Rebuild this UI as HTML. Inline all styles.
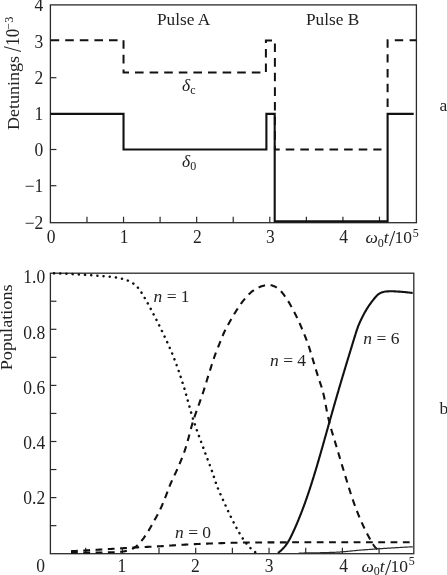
<!DOCTYPE html>
<html><head><meta charset="utf-8"><title>Figure</title>
<style>
html,body{margin:0;padding:0;background:#fff;}
svg{display:block;}
text{font-family:"Liberation Serif", serif;fill:#222;}
.ax{stroke:#2a2a2a;stroke-width:1.3;fill:none;}
.tk{stroke:#2a2a2a;stroke-width:1.2;fill:none;}
.ln{stroke:#111;stroke-width:2.1;fill:none;}
.ds{stroke:#111;stroke-width:2;fill:none;stroke-dasharray:9 6;}
.dt{stroke:#111;stroke-width:2.5;fill:none;stroke-dasharray:0.1 6.1;stroke-dashoffset:2.2;stroke-linecap:round;}
.it{font-style:italic;}
</style></head><body>
<svg width="447" height="575" viewBox="0 0 447 575">
<rect width="447" height="575" fill="#fff"/>

<rect class="ax" x="50.4" y="4.9" width="366.0" height="217.79999999999998"/>
<line class="tk" x1="86.97" y1="222.7" x2="86.97" y2="216.7"/>
<line class="tk" x1="123.53" y1="222.7" x2="123.53" y2="216.7"/>
<line class="tk" x1="160.09" y1="222.7" x2="160.09" y2="216.7"/>
<line class="tk" x1="196.66" y1="222.7" x2="196.66" y2="216.7"/>
<line class="tk" x1="233.22" y1="222.7" x2="233.22" y2="216.7"/>
<line class="tk" x1="269.79" y1="222.7" x2="269.79" y2="216.7"/>
<line class="tk" x1="306.35" y1="222.7" x2="306.35" y2="216.7"/>
<line class="tk" x1="342.92" y1="222.7" x2="342.92" y2="216.7"/>
<line class="tk" x1="379.48" y1="222.7" x2="379.48" y2="216.7"/>
<line class="tk" x1="50.4" y1="77.70" x2="56.4" y2="77.70"/>
<line class="tk" x1="50.4" y1="149.50" x2="56.4" y2="149.50"/>
<line class="tk" x1="50.4" y1="185.70" x2="56.4" y2="185.70"/>
<text transform="translate(43.3,11.30) scale(1,1.03)" font-size="17.5" text-anchor="end">4</text>
<text transform="translate(43.3,47.70) scale(1,1.03)" font-size="17.5" text-anchor="end">3</text>
<text transform="translate(43.3,84.10) scale(1,1.03)" font-size="17.5" text-anchor="end">2</text>
<text transform="translate(43.3,120.30) scale(1,1.03)" font-size="17.5" text-anchor="end">1</text>
<text transform="translate(43.3,155.90) scale(1,1.03)" font-size="17.5" text-anchor="end">0</text>
<text transform="translate(43.3,192.10) scale(1,1.03)" font-size="17.5" text-anchor="end">−1</text>
<text transform="translate(43.3,229.10) scale(1,1.03)" font-size="17.5" text-anchor="end">−2</text>
<text transform="translate(51.00,243) scale(1,1.03)" font-size="17.5" text-anchor="middle">0</text>
<text transform="translate(124.13,243) scale(1,1.03)" font-size="17.5" text-anchor="middle">1</text>
<text transform="translate(197.26,243) scale(1,1.03)" font-size="17.5" text-anchor="middle">2</text>
<text transform="translate(270.39,243) scale(1,1.03)" font-size="17.5" text-anchor="middle">3</text>
<text transform="translate(343.52,243) scale(1,1.03)" font-size="17.5" text-anchor="middle">4</text>
<text x="365.5" y="243" font-size="17.5"><tspan class="it">ω</tspan><tspan font-size="12" dy="3.5">0</tspan><tspan class="it" dy="-3.5">t</tspan><tspan font-size="22.5" dy="3" dx="0.2">/</tspan><tspan dy="-3" dx="-0.6">10</tspan><tspan font-size="12" dy="-6.5" dx="0.6">5</tspan></text>
<text transform="translate(19.1,129.9) rotate(-90) scale(1,0.94)" font-size="18">Detunings</text>
<text transform="translate(20.7,51.9) rotate(-90) scale(0.8,1)" font-size="26">/</text>
<text transform="translate(19.1,45.7) rotate(-90) scale(1,1.07)" font-size="17">10</text>
<text transform="translate(12.6,29.8) rotate(-90)" font-size="12.3">−3</text>
<text x="157" y="24.5" font-size="17.3">Pulse A</text>
<text x="306" y="24.6" font-size="17.3">Pulse B</text>
<text x="182" y="90.5" font-size="17.5"><tspan class="it">δ</tspan><tspan font-size="12" dy="3.3">c</tspan></text>
<text x="182" y="166.5" font-size="17.5"><tspan class="it">δ</tspan><tspan font-size="12" dy="3.3">0</tspan></text>
<text x="439.5" y="111" font-size="17.5">a</text>
<path class="ds" style="stroke-dasharray:8.6 6;stroke-dashoffset:-0.2" d="M50.4 40.2 H123.53 V72.6 H265.9 V40.400000000000006 H274.9 V149.50 H381.5"/>
<path class="ds" style="stroke-dasharray:8.4 6.4" d="M387.6 107 V40.2 H416.4"/>
<path class="ln" d="M50.4 113.90 H123.53 V149.50 H266.4 V113.90 H274.7 V221.40 H387.6 V113.90 H413.7"/>
<rect class="ax" x="50.4" y="273.2" width="363.40000000000003" height="280.50000000000006"/>
<line class="tk" x1="85.67" y1="553.7" x2="85.67" y2="547.7"/>
<line class="tk" x1="122.35" y1="553.7" x2="122.35" y2="547.7"/>
<line class="tk" x1="159.02" y1="553.7" x2="159.02" y2="547.7"/>
<line class="tk" x1="195.70" y1="553.7" x2="195.70" y2="547.7"/>
<line class="tk" x1="232.38" y1="553.7" x2="232.38" y2="547.7"/>
<line class="tk" x1="269.05" y1="553.7" x2="269.05" y2="547.7"/>
<line class="tk" x1="305.72" y1="553.7" x2="305.72" y2="547.7"/>
<line class="tk" x1="342.40" y1="553.7" x2="342.40" y2="547.7"/>
<line class="tk" x1="379.07" y1="553.7" x2="379.07" y2="547.7"/>
<line class="tk" x1="50.4" y1="525.65" x2="56.4" y2="525.65"/>
<line class="tk" x1="50.4" y1="497.60" x2="56.4" y2="497.60"/>
<line class="tk" x1="50.4" y1="469.55" x2="56.4" y2="469.55"/>
<line class="tk" x1="50.4" y1="441.50" x2="56.4" y2="441.50"/>
<line class="tk" x1="50.4" y1="413.45" x2="56.4" y2="413.45"/>
<line class="tk" x1="50.4" y1="385.40" x2="56.4" y2="385.40"/>
<line class="tk" x1="50.4" y1="357.35" x2="56.4" y2="357.35"/>
<line class="tk" x1="50.4" y1="329.30" x2="56.4" y2="329.30"/>
<line class="tk" x1="50.4" y1="301.25" x2="56.4" y2="301.25"/>
<text transform="translate(45.2,283.00) scale(1,1.03)" font-size="17.5" text-anchor="end">1.0</text>
<text transform="translate(45.2,338.60) scale(1,1.03)" font-size="17.5" text-anchor="end">0.8</text>
<text transform="translate(45.2,394.00) scale(1,1.03)" font-size="17.5" text-anchor="end">0.6</text>
<text transform="translate(45.2,448.50) scale(1,1.03)" font-size="17.5" text-anchor="end">0.4</text>
<text transform="translate(45.2,504.00) scale(1,1.03)" font-size="17.5" text-anchor="end">0.2</text>
<text transform="translate(40.7,571.5) scale(1,1.03)" font-size="17.5" text-anchor="middle">0</text>
<text transform="translate(121.9,571.5) scale(1,1.03)" font-size="17.5" text-anchor="middle">1</text>
<text transform="translate(195.3,571.5) scale(1,1.03)" font-size="17.5" text-anchor="middle">2</text>
<text transform="translate(269.0,571.5) scale(1,1.03)" font-size="17.5" text-anchor="middle">3</text>
<text transform="translate(343.7,571.5) scale(1,1.03)" font-size="17.5" text-anchor="middle">4</text>
<text x="361.5" y="571.5" font-size="17.5"><tspan class="it">ω</tspan><tspan font-size="12" dy="3.5">0</tspan><tspan class="it" dy="-3.5">t</tspan><tspan font-size="22.5" dy="3" dx="0.2">/</tspan><tspan dy="-3" dx="-0.6">10</tspan><tspan font-size="12" dy="-6.5" dx="0.6">5</tspan></text>
<text transform="translate(12,370.3) rotate(-90) scale(1,0.92)" font-size="18.2">Populations</text>
<text x="439.5" y="413.5" font-size="17.5">b</text>
<text x="153.5" y="301.5" font-size="17.5"><tspan class="it">n</tspan> = 1</text>
<text x="270" y="365.7" font-size="17.5"><tspan class="it">n</tspan> = 4</text>
<text x="363.3" y="343.7" font-size="17.5"><tspan class="it">n</tspan> = 6</text>
<text x="175" y="538" font-size="17.5"><tspan class="it">n</tspan> = 0</text>
<path class="dt" d="M50.00 273.25 L51.00 273.27 L52.00 273.30 L53.00 273.32 L54.00 273.35 L55.00 273.37 L56.00 273.40 L57.00 273.43 L58.00 273.47 L59.00 273.50 L60.00 273.54 L60.99 273.58 L61.99 273.62 L62.99 273.66 L63.99 273.70 L64.99 273.75 L65.99 273.80 L66.99 273.84 L67.99 273.89 L68.99 273.94 L69.99 273.99 L70.98 274.04 L71.98 274.09 L72.98 274.15 L73.98 274.20 L74.98 274.25 L75.98 274.31 L76.98 274.36 L77.97 274.42 L78.97 274.47 L79.97 274.53 L80.97 274.59 L81.97 274.65 L82.97 274.71 L83.96 274.77 L84.96 274.84 L85.96 274.90 L86.96 274.97 L87.95 275.04 L88.95 275.11 L89.95 275.19 L90.95 275.26 L91.94 275.34 L92.94 275.42 L93.94 275.50 L94.93 275.58 L95.93 275.66 L96.93 275.75 L97.92 275.83 L98.92 275.91 L99.92 275.98 L100.92 276.06 L101.91 276.14 L102.91 276.21 L103.91 276.29 L104.91 276.36 L105.90 276.44 L106.90 276.51 L107.90 276.59 L108.90 276.68 L109.89 276.77 L110.89 276.87 L111.88 276.98 L112.87 277.09 L113.86 277.22 L114.86 277.35 L115.85 277.50 L116.84 277.66 L117.82 277.83 L118.81 278.01 L119.79 278.21 L120.76 278.42 L121.74 278.65 L122.71 278.89 L123.67 279.15 L124.63 279.44 L125.59 279.74 L126.54 280.07 L127.47 280.43 L128.40 280.81 L129.30 281.21 L130.20 281.65 L131.07 282.11 L131.93 282.61 L132.76 283.15 L133.58 283.71 L134.37 284.32 L135.14 284.95 L135.88 285.61 L136.60 286.30 L137.29 287.01 L137.95 287.75 L138.59 288.51 L139.20 289.29 L139.79 290.09 L140.37 290.91 L140.93 291.74 L141.48 292.58 L142.02 293.43 L142.55 294.29 L143.07 295.15 L143.59 296.01 L144.10 296.87 L144.61 297.74 L145.11 298.60 L145.61 299.47 L146.10 300.34 L146.59 301.21 L147.07 302.09 L147.55 302.97 L148.03 303.85 L148.51 304.73 L148.98 305.61 L149.46 306.49 L149.93 307.37 L150.40 308.25 L150.87 309.14 L151.34 310.02 L151.81 310.90 L152.28 311.79 L152.74 312.67 L153.21 313.56 L153.67 314.44 L154.13 315.33 L154.59 316.22 L155.05 317.11 L155.50 318.00 L155.96 318.89 L156.41 319.78 L156.86 320.68 L157.31 321.57 L157.75 322.46 L158.20 323.36 L158.64 324.25 L159.09 325.15 L159.53 326.05 L159.97 326.95 L160.40 327.85 L160.84 328.75 L161.27 329.65 L161.71 330.55 L162.14 331.45 L162.57 332.35 L163.00 333.26 L163.43 334.16 L163.85 335.06 L164.28 335.97 L164.71 336.87 L165.13 337.78 L165.55 338.69 L165.98 339.59 L166.40 340.50 L166.82 341.41 L167.24 342.31 L167.66 343.22 L168.08 344.13 L168.50 345.04 L168.91 345.95 L169.32 346.86 L169.73 347.78 L170.13 348.69 L170.53 349.61 L170.92 350.53 L171.31 351.45 L171.69 352.37 L172.08 353.29 L172.45 354.22 L172.83 355.15 L173.20 356.07 L173.57 357.00 L173.93 357.94 L174.29 358.87 L174.65 359.80 L175.01 360.74 L175.36 361.67 L175.71 362.61 L176.06 363.55 L176.40 364.49 L176.74 365.43 L177.08 366.37 L177.42 367.31 L177.75 368.25 L178.08 369.19 L178.41 370.14 L178.74 371.08 L179.06 372.03 L179.39 372.98 L179.71 373.92 L180.02 374.87 L180.34 375.82 L180.65 376.77 L180.96 377.72 L181.27 378.67 L181.58 379.63 L181.88 380.58 L182.19 381.53 L182.49 382.49 L182.79 383.44 L183.09 384.39 L183.38 385.35 L183.68 386.30 L183.97 387.26 L184.26 388.22 L184.55 389.18 L184.83 390.13 L185.11 391.09 L185.39 392.05 L185.66 393.02 L185.94 393.98 L186.21 394.94 L186.48 395.90 L186.75 396.87 L187.02 397.83 L187.28 398.80 L187.55 399.76 L187.82 400.73 L188.08 401.69 L188.35 402.66 L188.61 403.62 L188.88 404.59 L189.15 405.55 L189.41 406.51 L189.68 407.48 L189.95 408.44 L190.22 409.40 L190.50 410.36 L190.77 411.32 L191.05 412.28 L191.33 413.24 L191.62 414.20 L191.91 415.16 L192.20 416.11 L192.49 417.07 L192.79 418.02 L193.09 418.98 L193.39 419.93 L193.70 420.88 L194.01 421.83 L194.32 422.77 L194.64 423.72 L194.96 424.67 L195.28 425.62 L195.60 426.56 L195.93 427.51 L196.26 428.45 L196.59 429.39 L196.92 430.34 L197.25 431.28 L197.59 432.22 L197.93 433.16 L198.27 434.11 L198.61 435.05 L198.95 435.99 L199.29 436.93 L199.63 437.87 L199.98 438.81 L200.32 439.74 L200.67 440.68 L201.02 441.62 L201.36 442.56 L201.71 443.50 L202.06 444.44 L202.41 445.38 L202.75 446.31 L203.10 447.25 L203.45 448.19 L203.80 449.13 L204.14 450.07 L204.49 451.01 L204.84 451.94 L205.18 452.88 L205.53 453.82 L205.88 454.76 L206.23 455.70 L206.58 456.63 L206.93 457.57 L207.28 458.50 L207.63 459.44 L207.99 460.38 L208.34 461.31 L208.70 462.25 L209.05 463.18 L209.41 464.12 L209.76 465.05 L210.11 465.99 L210.46 466.93 L210.81 467.86 L211.15 468.80 L211.49 469.74 L211.83 470.68 L212.17 471.62 L212.50 472.57 L212.82 473.51 L213.14 474.46 L213.46 475.41 L213.77 476.36 L214.08 477.31 L214.39 478.27 L214.70 479.22 L215.00 480.17 L215.31 481.12 L215.63 482.07 L215.94 483.02 L216.27 483.97 L216.60 484.91 L216.94 485.85 L217.28 486.78 L217.64 487.71 L218.01 488.64 L218.39 489.57 L218.77 490.49 L219.17 491.40 L219.57 492.32 L219.98 493.23 L220.39 494.15 L220.80 495.06 L221.22 495.97 L221.64 496.88 L222.05 497.79 L222.47 498.70 L222.88 499.61 L223.29 500.52 L223.70 501.43 L224.11 502.35 L224.52 503.26 L224.93 504.17 L225.34 505.08 L225.75 505.99 L226.17 506.91 L226.58 507.81 L227.00 508.72 L227.42 509.63 L227.84 510.54 L228.27 511.44 L228.69 512.35 L229.12 513.25 L229.55 514.15 L229.99 515.05 L230.43 515.95 L230.87 516.85 L231.31 517.74 L231.76 518.64 L232.20 519.53 L232.65 520.43 L233.11 521.32 L233.56 522.21 L234.02 523.10 L234.48 523.99 L234.94 524.87 L235.41 525.76 L235.87 526.65 L236.34 527.53 L236.81 528.41 L237.29 529.30 L237.77 530.17 L238.25 531.05 L238.74 531.92 L239.23 532.79 L239.73 533.66 L240.24 534.52 L240.76 535.37 L241.29 536.22 L241.82 537.07 L242.36 537.91 L242.92 538.74 L243.48 539.57 L244.05 540.39 L244.63 541.21 L245.23 542.01 L245.83 542.81 L246.45 543.59 L247.07 544.37 L247.72 545.14 L248.37 545.89 L249.04 546.63 L249.72 547.36 L250.42 548.08 L251.13 548.77 L251.85 549.45 L252.58 550.10 L253.31 550.71 L254.03 551.30 L254.74 551.84 L255.43 552.34"/>
<path class="ds" style="stroke-dasharray:6.8 5.5;stroke-width:2.1" d="M71.00 552.70 L72.00 552.70 L73.00 552.70 L74.00 552.69 L75.00 552.69 L76.00 552.69 L77.00 552.69 L78.00 552.68 L79.00 552.68 L80.00 552.67 L81.00 552.67 L82.00 552.66 L83.00 552.66 L84.00 552.65 L85.00 552.64 L86.00 552.64 L87.00 552.63 L88.00 552.62 L89.00 552.61 L90.00 552.60 L91.00 552.59 L92.00 552.58 L93.00 552.57 L94.00 552.56 L95.00 552.55 L96.00 552.54 L97.00 552.53 L98.00 552.52 L99.00 552.51 L100.00 552.50 L101.00 552.49 L102.00 552.47 L103.00 552.46 L104.01 552.45 L105.01 552.43 L106.01 552.41 L107.01 552.40 L108.01 552.38 L109.01 552.36 L110.02 552.34 L111.02 552.31 L112.02 552.29 L113.02 552.26 L114.02 552.23 L115.01 552.19 L116.01 552.15 L117.01 552.11 L118.00 552.05 L119.00 551.99 L119.99 551.91 L120.99 551.82 L121.98 551.70 L122.97 551.56 L123.96 551.40 L124.94 551.21 L125.91 551.00 L126.88 550.77 L127.85 550.50 L128.80 550.21 L129.75 549.88 L130.68 549.52 L131.59 549.13 L132.49 548.70 L133.37 548.24 L134.21 547.74 L135.04 547.20 L135.83 546.62 L136.60 546.00 L137.35 545.35 L138.07 544.67 L138.78 543.95 L139.46 543.22 L140.14 542.47 L140.79 541.71 L141.44 540.94 L142.07 540.16 L142.68 539.37 L143.29 538.57 L143.89 537.77 L144.47 536.95 L145.05 536.13 L145.61 535.31 L146.17 534.48 L146.72 533.64 L147.26 532.80 L147.79 531.95 L148.32 531.10 L148.83 530.25 L149.34 529.39 L149.84 528.52 L150.34 527.65 L150.83 526.78 L151.32 525.91 L151.81 525.03 L152.29 524.16 L152.78 523.28 L153.26 522.41 L153.75 521.53 L154.23 520.66 L154.72 519.78 L155.21 518.91 L155.70 518.03 L156.19 517.16 L156.67 516.28 L157.16 515.41 L157.63 514.53 L158.10 513.65 L158.57 512.76 L159.02 511.87 L159.47 510.98 L159.91 510.08 L160.34 509.18 L160.76 508.28 L161.17 507.37 L161.58 506.46 L161.98 505.54 L162.37 504.62 L162.76 503.70 L163.14 502.78 L163.52 501.85 L163.90 500.92 L164.27 499.99 L164.64 499.06 L165.01 498.13 L165.38 497.20 L165.74 496.27 L166.10 495.34 L166.46 494.40 L166.82 493.47 L167.17 492.53 L167.52 491.59 L167.87 490.66 L168.22 489.72 L168.57 488.78 L168.92 487.85 L169.28 486.92 L169.65 485.99 L170.03 485.06 L170.41 484.14 L170.80 483.22 L171.20 482.30 L171.61 481.39 L172.02 480.48 L172.44 479.57 L172.87 478.67 L173.29 477.76 L173.72 476.86 L174.15 475.96 L174.58 475.05 L175.01 474.15 L175.44 473.24 L175.86 472.34 L176.28 471.43 L176.69 470.52 L177.10 469.60 L177.51 468.69 L177.91 467.77 L178.31 466.86 L178.70 465.94 L179.10 465.02 L179.49 464.10 L179.88 463.17 L180.27 462.25 L180.65 461.33 L181.04 460.40 L181.41 459.47 L181.79 458.55 L182.16 457.62 L182.53 456.68 L182.89 455.75 L183.24 454.82 L183.59 453.88 L183.94 452.94 L184.27 452.00 L184.60 451.06 L184.92 450.12 L185.24 449.17 L185.54 448.23 L185.84 447.27 L186.14 446.32 L186.43 445.37 L186.71 444.41 L186.99 443.45 L187.26 442.49 L187.53 441.53 L187.80 440.56 L188.06 439.60 L188.32 438.63 L188.58 437.66 L188.83 436.69 L189.09 435.72 L189.34 434.76 L189.60 433.79 L189.85 432.82 L190.11 431.85 L190.36 430.88 L190.62 429.91 L190.88 428.95 L191.14 427.98 L191.41 427.01 L191.68 426.05 L191.96 425.09 L192.23 424.13 L192.52 423.17 L192.81 422.21 L193.10 421.26 L193.40 420.31 L193.70 419.35 L194.01 418.40 L194.32 417.45 L194.64 416.51 L194.96 415.56 L195.28 414.61 L195.61 413.67 L195.94 412.72 L196.27 411.78 L196.60 410.84 L196.94 409.90 L197.28 408.95 L197.62 408.01 L197.96 407.07 L198.30 406.13 L198.64 405.19 L198.98 404.25 L199.32 403.31 L199.66 402.37 L199.99 401.42 L200.33 400.48 L200.67 399.54 L201.00 398.60 L201.33 397.65 L201.66 396.71 L201.99 395.76 L202.31 394.82 L202.64 393.87 L202.95 392.92 L203.27 391.97 L203.58 391.02 L203.88 390.07 L204.18 389.12 L204.48 388.16 L204.78 387.21 L205.07 386.25 L205.36 385.30 L205.65 384.34 L205.94 383.38 L206.23 382.42 L206.52 381.47 L206.81 380.51 L207.11 379.55 L207.40 378.60 L207.70 377.64 L207.99 376.69 L208.29 375.73 L208.59 374.78 L208.89 373.83 L209.19 372.87 L209.50 371.92 L209.80 370.97 L210.10 370.01 L210.41 369.06 L210.71 368.11 L211.01 367.15 L211.32 366.20 L211.62 365.25 L211.93 364.30 L212.23 363.34 L212.54 362.39 L212.85 361.44 L213.16 360.49 L213.47 359.54 L213.79 358.59 L214.11 357.65 L214.44 356.70 L214.77 355.76 L215.11 354.82 L215.46 353.88 L215.81 352.95 L216.16 352.01 L216.53 351.08 L216.89 350.15 L217.26 349.22 L217.64 348.29 L218.01 347.37 L218.39 346.44 L218.76 345.51 L219.13 344.58 L219.50 343.65 L219.88 342.72 L220.24 341.79 L220.61 340.86 L220.98 339.93 L221.35 339.00 L221.72 338.07 L222.09 337.14 L222.47 336.22 L222.86 335.29 L223.25 334.38 L223.65 333.46 L224.06 332.55 L224.48 331.65 L224.92 330.75 L225.36 329.85 L225.81 328.96 L226.27 328.08 L226.74 327.20 L227.22 326.32 L227.70 325.44 L228.19 324.57 L228.68 323.69 L229.17 322.82 L229.66 321.95 L230.15 321.08 L230.65 320.21 L231.14 319.34 L231.64 318.47 L232.14 317.60 L232.64 316.73 L233.14 315.87 L233.65 315.01 L234.16 314.15 L234.68 313.29 L235.21 312.44 L235.74 311.59 L236.27 310.75 L236.81 309.90 L237.35 309.06 L237.90 308.22 L238.46 307.39 L239.02 306.55 L239.59 305.72 L240.16 304.90 L240.74 304.08 L241.32 303.27 L241.92 302.47 L242.52 301.67 L243.13 300.88 L243.75 300.10 L244.38 299.33 L245.02 298.56 L245.68 297.80 L246.34 297.04 L247.01 296.29 L247.70 295.55 L248.39 294.81 L249.10 294.10 L249.83 293.40 L250.56 292.72 L251.32 292.07 L252.08 291.44 L252.87 290.84 L253.67 290.27 L254.49 289.73 L255.33 289.20 L256.19 288.71 L257.07 288.23 L257.96 287.78 L258.87 287.36 L259.79 286.96 L260.73 286.59 L261.67 286.25 L262.62 285.94 L263.58 285.66 L264.55 285.42 L265.52 285.23 L266.50 285.09 L267.48 285.00 L268.46 284.98 L269.45 285.03 L270.43 285.15 L271.40 285.34 L272.36 285.59 L273.30 285.90 L274.21 286.26 L275.10 286.67 L275.96 287.12 L276.79 287.61 L277.59 288.15 L278.36 288.74 L279.11 289.37 L279.83 290.05 L280.54 290.77 L281.22 291.52 L281.89 292.30 L282.54 293.09 L283.18 293.89 L283.80 294.71 L284.41 295.52 L285.01 296.34 L285.59 297.16 L286.16 297.98 L286.71 298.81 L287.26 299.65 L287.79 300.50 L288.31 301.35 L288.83 302.21 L289.34 303.08 L289.84 303.95 L290.33 304.82 L290.82 305.70 L291.31 306.58 L291.79 307.46 L292.27 308.34 L292.74 309.22 L293.21 310.11 L293.68 310.99 L294.14 311.88 L294.60 312.77 L295.06 313.66 L295.51 314.55 L295.96 315.44 L296.40 316.34 L296.84 317.24 L297.27 318.14 L297.70 319.05 L298.12 319.95 L298.54 320.86 L298.96 321.77 L299.37 322.68 L299.77 323.60 L300.17 324.51 L300.57 325.43 L300.96 326.35 L301.35 327.27 L301.73 328.20 L302.12 329.12 L302.50 330.04 L302.88 330.97 L303.27 331.89 L303.65 332.82 L304.03 333.74 L304.41 334.67 L304.79 335.59 L305.17 336.52 L305.54 337.45 L305.91 338.38 L306.27 339.31 L306.63 340.24 L306.98 341.18 L307.32 342.11 L307.66 343.05 L307.99 344.00 L308.31 344.94 L308.63 345.89 L308.95 346.84 L309.26 347.79 L309.56 348.74 L309.86 349.69 L310.16 350.65 L310.45 351.60 L310.75 352.56 L311.04 353.52 L311.33 354.48 L311.61 355.43 L311.90 356.39 L312.19 357.35 L312.48 358.31 L312.77 359.27 L313.06 360.22 L313.35 361.18 L313.64 362.14 L313.93 363.10 L314.23 364.05 L314.52 365.01 L314.81 365.96 L315.10 366.92 L315.39 367.88 L315.69 368.83 L315.98 369.79 L316.27 370.75 L316.56 371.70 L316.85 372.66 L317.15 373.62 L317.45 374.57 L317.74 375.53 L318.04 376.48 L318.35 377.43 L318.66 378.38 L318.97 379.33 L319.29 380.28 L319.61 381.23 L319.93 382.18 L320.26 383.13 L320.58 384.07 L320.90 385.02 L321.22 385.97 L321.52 386.92 L321.82 387.87 L322.10 388.83 L322.38 389.79 L322.64 390.75 L322.90 391.71 L323.14 392.68 L323.37 393.65 L323.60 394.62 L323.82 395.59 L324.03 396.57 L324.24 397.54 L324.44 398.52 L324.64 399.50 L324.84 400.49 L325.03 401.47 L325.22 402.45 L325.41 403.44 L325.60 404.42 L325.78 405.40 L325.97 406.39 L326.15 407.37 L326.34 408.36 L326.52 409.34 L326.71 410.33 L326.90 411.31 L327.10 412.29 L327.29 413.28 L327.50 414.26 L327.70 415.24 L327.91 416.21 L328.13 417.19 L328.35 418.16 L328.57 419.14 L328.80 420.11 L329.04 421.08 L329.28 422.05 L329.53 423.01 L329.78 423.98 L330.04 424.94 L330.30 425.91 L330.57 426.87 L330.84 427.83 L331.11 428.80 L331.38 429.76 L331.66 430.72 L331.94 431.68 L332.23 432.64 L332.51 433.60 L332.80 434.55 L333.09 435.51 L333.38 436.47 L333.67 437.43 L333.96 438.39 L334.26 439.34 L334.55 440.30 L334.84 441.26 L335.14 442.21 L335.43 443.17 L335.72 444.13 L336.01 445.09 L336.31 446.04 L336.60 447.00 L336.88 447.96 L337.17 448.92 L337.46 449.88 L337.74 450.83 L338.03 451.79 L338.31 452.75 L338.60 453.71 L338.88 454.67 L339.17 455.63 L339.45 456.59 L339.74 457.54 L340.02 458.50 L340.31 459.46 L340.59 460.42 L340.88 461.38 L341.16 462.34 L341.45 463.29 L341.74 464.25 L342.02 465.21 L342.31 466.17 L342.60 467.13 L342.89 468.08 L343.18 469.04 L343.47 470.00 L343.76 470.95 L344.05 471.91 L344.35 472.87 L344.64 473.82 L344.93 474.78 L345.23 475.73 L345.52 476.69 L345.81 477.65 L346.10 478.60 L346.40 479.56 L346.69 480.52 L346.98 481.47 L347.28 482.43 L347.57 483.39 L347.86 484.34 L348.16 485.30 L348.45 486.26 L348.75 487.21 L349.05 488.17 L349.34 489.12 L349.64 490.08 L349.95 491.03 L350.25 491.98 L350.55 492.94 L350.86 493.89 L351.17 494.84 L351.48 495.79 L351.79 496.74 L352.11 497.69 L352.43 498.63 L352.75 499.58 L353.08 500.52 L353.40 501.47 L353.73 502.41 L354.07 503.35 L354.41 504.29 L354.75 505.23 L355.09 506.17 L355.44 507.11 L355.79 508.05 L356.14 508.98 L356.50 509.92 L356.86 510.85 L357.23 511.78 L357.59 512.72 L357.96 513.64 L358.34 514.57 L358.72 515.50 L359.10 516.42 L359.48 517.34 L359.87 518.26 L360.27 519.18 L360.66 520.10 L361.06 521.02 L361.47 521.93 L361.88 522.84 L362.29 523.75 L362.71 524.66 L363.13 525.57 L363.55 526.48 L363.98 527.38 L364.41 528.29 L364.85 529.19 L365.29 530.09 L365.74 530.98 L366.19 531.88 L366.64 532.77 L367.10 533.66 L367.56 534.55 L368.03 535.43 L368.50 536.32 L368.97 537.20 L369.45 538.08 L369.93 538.97 L370.41 539.85 L370.91 540.73 L371.40 541.61 L371.91 542.48 L372.43 543.34 L372.96 544.19 L373.52 545.02 L374.10 545.82 L374.70 546.60 L375.34 547.35 L376.00 548.07 L376.70 548.76 L377.41 549.43 L378.15 550.07 L378.88 550.69 L379.59 551.28 L380.28 551.84 L380.92 552.36 L381.50 552.83"/>
<path class="ds" style="stroke-dasharray:6.8 5.5;stroke-width:2.1" d="M71.00 551.20 L72.00 551.15 L73.00 551.09 L74.00 551.04 L74.99 550.99 L75.99 550.93 L76.99 550.88 L77.99 550.83 L78.99 550.77 L79.99 550.72 L80.99 550.66 L81.98 550.61 L82.98 550.55 L83.98 550.50 L84.98 550.44 L85.98 550.39 L86.98 550.33 L87.98 550.28 L88.97 550.22 L89.97 550.17 L90.97 550.11 L91.97 550.06 L92.97 550.00 L93.97 549.94 L94.96 549.89 L95.96 549.83 L96.96 549.77 L97.96 549.72 L98.96 549.66 L99.96 549.60 L100.95 549.54 L101.95 549.48 L102.95 549.43 L103.95 549.37 L104.95 549.31 L105.95 549.25 L106.94 549.19 L107.94 549.13 L108.94 549.07 L109.94 549.00 L110.94 548.94 L111.93 548.88 L112.93 548.82 L113.93 548.76 L114.93 548.70 L115.93 548.63 L116.92 548.57 L117.92 548.51 L118.92 548.45 L119.92 548.39 L120.92 548.33 L121.92 548.26 L122.91 548.20 L123.91 548.14 L124.91 548.08 L125.91 548.02 L126.91 547.96 L127.90 547.91 L128.90 547.85 L129.90 547.79 L130.90 547.73 L131.90 547.68 L132.90 547.62 L133.89 547.56 L134.89 547.51 L135.89 547.46 L136.89 547.40 L137.89 547.35 L138.89 547.30 L139.89 547.25 L140.89 547.20 L141.88 547.15 L142.88 547.10 L143.88 547.05 L144.88 547.01 L145.88 546.96 L146.88 546.91 L147.88 546.86 L148.88 546.81 L149.88 546.77 L150.87 546.72 L151.87 546.67 L152.87 546.62 L153.87 546.57 L154.87 546.52 L155.87 546.47 L156.87 546.41 L157.86 546.36 L158.86 546.31 L159.86 546.25 L160.86 546.19 L161.86 546.14 L162.86 546.08 L163.85 546.02 L164.85 545.95 L165.85 545.89 L166.85 545.83 L167.85 545.76 L168.84 545.69 L169.84 545.63 L170.84 545.56 L171.84 545.49 L172.84 545.42 L173.83 545.36 L174.83 545.29 L175.83 545.22 L176.83 545.16 L177.82 545.09 L178.82 545.02 L179.82 544.96 L180.82 544.90 L181.82 544.83 L182.81 544.77 L183.81 544.71 L184.81 544.65 L185.81 544.60 L186.81 544.54 L187.81 544.49 L188.80 544.44 L189.80 544.38 L190.80 544.33 L191.80 544.28 L192.80 544.23 L193.80 544.18 L194.80 544.13 L195.80 544.09 L196.79 544.04 L197.79 543.99 L198.79 543.95 L199.79 543.90 L200.79 543.86 L201.79 543.82 L202.79 543.77 L203.79 543.73 L204.79 543.69 L205.79 543.66 L206.79 543.62 L207.79 543.58 L208.78 543.55 L209.78 543.51 L210.78 543.48 L211.78 543.44 L212.78 543.41 L213.78 543.38 L214.78 543.34 L215.78 543.31 L216.78 543.28 L217.78 543.24 L218.78 543.21 L219.78 543.18 L220.78 543.15 L221.78 543.11 L222.78 543.08 L223.78 543.05 L224.78 543.02 L225.78 542.99 L226.78 542.96 L227.78 542.93 L228.78 542.90 L229.78 542.88 L230.77 542.85 L231.77 542.82 L232.77 542.80 L233.77 542.77 L234.77 542.75 L235.77 542.72 L236.77 542.70 L237.77 542.68 L238.77 542.66 L239.77 542.64 L240.77 542.62 L241.77 542.60 L242.77 542.59 L243.77 542.57 L244.77 542.56 L245.77 542.54 L246.77 542.53 L247.77 542.52 L248.77 542.51 L249.77 542.51 L250.77 542.50 L251.77 542.49 L252.77 542.48 L253.77 542.48 L254.77 542.47 L255.77 542.47 L256.77 542.46 L257.77 542.45 L258.77 542.45 L259.77 542.44 L260.77 542.44 L261.77 542.43 L262.77 542.43 L263.77 542.42 L264.77 542.42 L265.77 542.41 L266.77 542.41 L267.77 542.40 L268.77 542.40 L269.77 542.39 L270.77 542.39 L271.77 542.39 L272.77 542.38 L273.77 542.38 L274.77 542.37 L275.77 542.37 L276.77 542.37 L277.77 542.36 L278.77 542.36 L279.77 542.35 L280.77 542.35 L281.77 542.35 L282.77 542.34 L283.77 542.34 L284.77 542.34 L285.77 542.34 L286.77 542.33 L287.77 542.33 L288.77 542.33 L289.77 542.33 L290.77 542.32 L291.77 542.32 L292.77 542.32 L293.77 542.32 L294.77 542.31 L295.77 542.31 L296.77 542.31 L297.77 542.31 L298.77 542.31 L299.77 542.31 L300.77 542.31 L301.77 542.30 L302.77 542.30 L303.77 542.30 L304.77 542.30 L305.77 542.30 L306.77 542.30 L307.77 542.30 L308.77 542.30 L309.77 542.30 L310.77 542.30 L311.77 542.30 L312.77 542.30 L313.77 542.30 L314.77 542.30 L315.77 542.30 L316.77 542.30 L317.77 542.30 L318.77 542.30 L319.77 542.30 L320.77 542.30 L321.77 542.30 L322.77 542.30 L323.77 542.30 L324.77 542.30 L325.77 542.30 L326.77 542.30 L327.77 542.30 L328.77 542.30 L329.77 542.30 L330.77 542.30 L331.77 542.30 L332.77 542.30 L333.77 542.30 L334.77 542.30 L335.77 542.30 L336.77 542.30 L337.77 542.30 L338.77 542.30 L339.77 542.30 L340.77 542.30 L341.77 542.30 L342.77 542.30 L343.77 542.30 L344.77 542.30 L345.77 542.30 L346.77 542.30 L347.77 542.30 L348.77 542.30 L349.77 542.30 L350.77 542.30 L351.77 542.30 L352.77 542.30 L353.77 542.30 L354.77 542.30 L355.77 542.30 L356.77 542.30 L357.77 542.30 L358.77 542.30 L359.77 542.30 L360.77 542.30 L361.77 542.30 L362.77 542.30 L363.77 542.30 L364.77 542.30 L365.77 542.30 L366.77 542.30 L367.77 542.30 L368.77 542.30 L369.77 542.30 L370.77 542.30 L371.77 542.30 L372.77 542.30 L373.77 542.30 L374.77 542.30 L375.77 542.30 L376.77 542.30 L377.77 542.30 L378.77 542.30 L379.77 542.30 L380.77 542.30 L381.77 542.30 L382.77 542.30 L383.77 542.30 L384.77 542.30 L385.77 542.30 L386.77 542.30 L387.77 542.30 L388.77 542.30 L389.77 542.30 L390.77 542.30 L391.77 542.30 L392.77 542.30 L393.77 542.30 L394.77 542.30 L395.77 542.30 L396.77 542.30 L397.77 542.30 L398.77 542.30 L399.77 542.30 L400.77 542.30 L401.77 542.30 L402.77 542.30 L403.77 542.30 L404.76 542.30 L405.74 542.30 L406.70 542.30 L407.64 542.30 L408.53 542.30 L409.36 542.30 L410.12 542.30"/>
<path class="ln" d="M277.96 552.96 L278.76 552.35 L279.54 551.72 L280.31 551.08 L281.06 550.42 L281.80 549.75 L282.51 549.05 L283.20 548.33 L283.87 547.60 L284.52 546.84 L285.16 546.07 L285.77 545.28 L286.36 544.48 L286.93 543.66 L287.48 542.83 L288.01 541.99 L288.53 541.14 L289.03 540.28 L289.51 539.41 L289.98 538.52 L290.44 537.64 L290.89 536.74 L291.34 535.84 L291.78 534.94 L292.21 534.03 L292.64 533.12 L293.06 532.22 L293.48 531.31 L293.90 530.40 L294.32 529.49 L294.73 528.58 L295.13 527.66 L295.54 526.75 L295.94 525.83 L296.34 524.91 L296.73 523.99 L297.12 523.07 L297.51 522.15 L297.89 521.23 L298.27 520.30 L298.65 519.38 L299.03 518.45 L299.41 517.52 L299.78 516.60 L300.15 515.67 L300.52 514.74 L300.88 513.81 L301.25 512.88 L301.61 511.94 L301.97 511.01 L302.32 510.07 L302.68 509.14 L303.03 508.20 L303.38 507.27 L303.73 506.33 L304.07 505.39 L304.41 504.45 L304.76 503.51 L305.10 502.57 L305.43 501.63 L305.77 500.69 L306.10 499.74 L306.43 498.80 L306.76 497.86 L307.09 496.91 L307.41 495.97 L307.74 495.02 L308.06 494.07 L308.38 493.12 L308.70 492.18 L309.02 491.23 L309.33 490.28 L309.65 489.33 L309.96 488.38 L310.27 487.43 L310.58 486.48 L310.89 485.53 L311.19 484.58 L311.50 483.62 L311.80 482.67 L312.10 481.72 L312.40 480.76 L312.70 479.81 L313.00 478.85 L313.30 477.90 L313.60 476.94 L313.89 475.99 L314.18 475.03 L314.48 474.08 L314.77 473.12 L315.06 472.16 L315.35 471.21 L315.64 470.25 L315.93 469.29 L316.21 468.33 L316.50 467.38 L316.78 466.42 L317.07 465.46 L317.35 464.50 L317.63 463.54 L317.92 462.58 L318.20 461.62 L318.48 460.66 L318.76 459.70 L319.04 458.74 L319.32 457.78 L319.59 456.82 L319.87 455.86 L320.15 454.90 L320.42 453.94 L320.70 452.97 L320.97 452.01 L321.25 451.05 L321.52 450.09 L321.80 449.13 L322.07 448.17 L322.34 447.21 L322.62 446.24 L322.89 445.28 L323.16 444.32 L323.43 443.36 L323.71 442.39 L323.98 441.43 L324.25 440.47 L324.52 439.51 L324.79 438.54 L325.06 437.58 L325.33 436.62 L325.60 435.66 L325.88 434.69 L326.15 433.73 L326.42 432.77 L326.69 431.81 L326.96 430.84 L327.23 429.88 L327.50 428.92 L327.77 427.96 L328.04 426.99 L328.31 426.03 L328.58 425.07 L328.85 424.10 L329.12 423.14 L329.40 422.18 L329.67 421.22 L329.94 420.25 L330.21 419.29 L330.48 418.33 L330.76 417.37 L331.03 416.41 L331.30 415.44 L331.57 414.48 L331.85 413.52 L332.12 412.56 L332.40 411.60 L332.67 410.63 L332.94 409.67 L333.22 408.71 L333.49 407.75 L333.77 406.79 L334.04 405.83 L334.32 404.87 L334.59 403.90 L334.87 402.94 L335.15 401.98 L335.42 401.02 L335.70 400.06 L335.98 399.10 L336.26 398.14 L336.53 397.18 L336.81 396.22 L337.09 395.26 L337.37 394.30 L337.65 393.34 L337.93 392.38 L338.21 391.42 L338.49 390.46 L338.77 389.50 L339.05 388.54 L339.33 387.58 L339.62 386.62 L339.90 385.66 L340.18 384.70 L340.46 383.74 L340.75 382.78 L341.03 381.82 L341.32 380.87 L341.60 379.91 L341.89 378.95 L342.17 377.99 L342.46 377.03 L342.74 376.07 L343.03 375.11 L343.32 374.16 L343.60 373.20 L343.89 372.24 L344.18 371.28 L344.47 370.33 L344.76 369.37 L345.04 368.41 L345.33 367.45 L345.62 366.50 L345.91 365.54 L346.20 364.58 L346.49 363.63 L346.78 362.67 L347.08 361.71 L347.37 360.76 L347.66 359.80 L347.95 358.84 L348.24 357.89 L348.53 356.93 L348.83 355.97 L349.12 355.02 L349.41 354.06 L349.70 353.10 L350.00 352.15 L350.29 351.19 L350.58 350.24 L350.87 349.28 L351.17 348.32 L351.46 347.37 L351.75 346.41 L352.04 345.45 L352.33 344.50 L352.62 343.54 L352.92 342.58 L353.21 341.63 L353.50 340.67 L353.80 339.72 L354.09 338.76 L354.39 337.80 L354.68 336.85 L354.98 335.89 L355.27 334.94 L355.57 333.98 L355.87 333.03 L356.17 332.07 L356.47 331.12 L356.78 330.17 L357.10 329.22 L357.43 328.28 L357.77 327.34 L358.12 326.41 L358.49 325.48 L358.87 324.55 L359.25 323.63 L359.66 322.72 L360.07 321.80 L360.48 320.90 L360.91 319.99 L361.34 319.09 L361.78 318.19 L362.23 317.29 L362.68 316.40 L363.14 315.51 L363.60 314.62 L364.07 313.74 L364.55 312.86 L365.04 311.99 L365.54 311.12 L366.04 310.26 L366.56 309.40 L367.08 308.55 L367.61 307.71 L368.16 306.87 L368.71 306.04 L369.28 305.21 L369.85 304.39 L370.43 303.57 L371.02 302.76 L371.62 301.96 L372.23 301.15 L372.84 300.35 L373.46 299.55 L374.09 298.76 L374.73 297.97 L375.38 297.20 L376.05 296.45 L376.74 295.73 L377.45 295.05 L378.20 294.41 L378.98 293.84 L379.79 293.32 L380.65 292.88 L381.54 292.50 L382.45 292.18 L383.40 291.93 L384.36 291.73 L385.34 291.58 L386.32 291.47 L387.32 291.39 L388.32 291.33 L389.32 291.29 L390.32 291.28 L391.32 291.27 L392.32 291.29 L393.32 291.31 L394.32 291.35 L395.32 291.40 L396.32 291.46 L397.32 291.52 L398.32 291.59 L399.31 291.66 L400.31 291.74 L401.31 291.81 L402.30 291.90 L403.30 291.98 L404.30 292.07 L405.29 292.16 L406.28 292.26 L407.27 292.36 L408.25 292.47 L409.21 292.58 L410.14 292.69 L411.04 292.80 L411.89 292.90 L412.67 293.00"/>
<path class="tk" d="M298.75 553.00 L299.75 553.00 L300.75 552.99 L301.75 552.99 L302.76 552.98 L303.76 552.98 L304.76 552.97 L305.76 552.96 L306.76 552.95 L307.76 552.94 L308.76 552.93 L309.76 552.92 L310.76 552.90 L311.76 552.89 L312.76 552.87 L313.76 552.85 L314.76 552.84 L315.76 552.82 L316.76 552.80 L317.76 552.78 L318.76 552.75 L319.76 552.73 L320.76 552.71 L321.76 552.68 L322.76 552.66 L323.76 552.63 L324.76 552.60 L325.76 552.58 L326.76 552.55 L327.76 552.52 L328.75 552.49 L329.75 552.46 L330.75 552.43 L331.75 552.40 L332.75 552.37 L333.75 552.33 L334.74 552.29 L335.74 552.25 L336.74 552.20 L337.74 552.15 L338.73 552.09 L339.73 552.03 L340.73 551.96 L341.72 551.88 L342.72 551.80 L343.72 551.72 L344.71 551.63 L345.71 551.54 L346.70 551.45 L347.70 551.35 L348.70 551.25 L349.69 551.15 L350.69 551.05 L351.68 550.94 L352.68 550.84 L353.67 550.74 L354.67 550.64 L355.67 550.55 L356.66 550.45 L357.66 550.36 L358.66 550.27 L359.65 550.18 L360.65 550.10 L361.65 550.02 L362.64 549.94 L363.64 549.87 L364.64 549.79 L365.63 549.72 L366.63 549.65 L367.63 549.57 L368.63 549.50 L369.62 549.43 L370.62 549.36 L371.62 549.29 L372.61 549.22 L373.61 549.15 L374.61 549.08 L375.61 549.01 L376.60 548.94 L377.60 548.87 L378.60 548.81 L379.60 548.74 L380.60 548.67 L381.59 548.60 L382.59 548.54 L383.59 548.47 L384.59 548.41 L385.58 548.34 L386.58 548.28 L387.58 548.22 L388.58 548.15 L389.58 548.09 L390.57 548.03 L391.57 547.97 L392.57 547.90 L393.57 547.84 L394.57 547.78 L395.57 547.72 L396.56 547.67 L397.56 547.61 L398.56 547.55 L399.56 547.49 L400.56 547.44 L401.56 547.38 L402.56 547.32 L403.55 547.27 L404.55 547.22 L405.55 547.16 L406.54 547.11 L407.53 547.06 L408.51 547.01 L409.47 546.96 L410.40 546.91 L411.28 546.87 L412.10 546.83 L412.84 546.79"/>
</svg></body></html>
